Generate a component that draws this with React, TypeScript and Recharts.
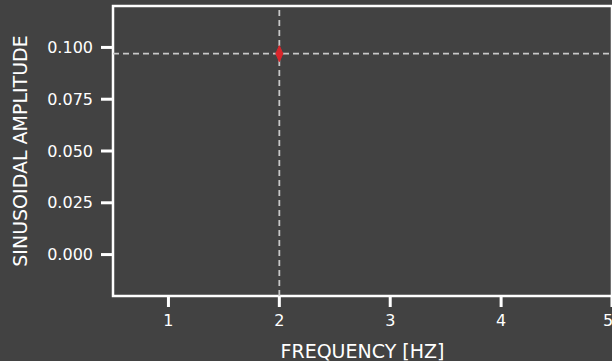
import React from 'react';
import { ComposedChart, Scatter, XAxis, YAxis, ReferenceLine, ReferenceArea } from 'recharts';

const xTicks = [1, 2, 3, 4, 5];
const yTicks = [0, 0.025, 0.05, 0.075, 0.1];
const frequencies = [2];
const amplitudes = [0.097];

const data = frequencies.map((f, i) => ({ freq: f, amp: amplitudes[i] }));

const BG = '#424242';
const FONT = '"DejaVu Sans", sans-serif';

const Diamond = (props: any) => {
  const { cx, cy } = props;
  if (cx == null || cy == null) return null;
  return (
    <path
      d={`M ${cx} ${cy - 8} L ${cx + 3.5} ${cy} L ${cx} ${cy + 8} L ${cx - 3.5} ${cy} Z`}
      fill="#d9262b"
      stroke="#d9262b"
      strokeWidth={1}
    />
  );
};

export default function App() {
  return (
    <div style={{ position: 'absolute', left: 0, top: 0, width: 612, height: 361, background: BG, overflow: 'hidden' }}>
      <ComposedChart width={612} height={361} data={data} margin={{ top: 6, right: 0, bottom: 0, left: 0 }}>
        <XAxis
          dataKey="freq"
          type="number"
          domain={[0.5, 5]}
          ticks={xTicks}
          allowDataOverflow
          height={65}
          axisLine={false}
          tickLine={{ stroke: '#ffffff', strokeWidth: 3 }}
          tickSize={11}
          tickMargin={8}
          tick={{ fill: '#ffffff', fontSize: 16, fontFamily: FONT }}
          label={{ value: 'FREQUENCY [HZ]', position: 'insideBottom', offset: 3, fill: '#ffffff', fontSize: 19, fontFamily: FONT }}
        />
        <YAxis
          dataKey="amp"
          type="number"
          domain={[-0.02, 0.12]}
          ticks={yTicks}
          allowDataOverflow
          width={113}
          axisLine={false}
          tickLine={{ stroke: '#ffffff', strokeWidth: 3 }}
          tickSize={12}
          tickMargin={8}
          tickFormatter={(v: number) => v.toFixed(3)}
          tick={{ fill: '#ffffff', fontSize: 16, fontFamily: FONT }}
          label={{ value: 'SINUSOIDAL AMPLITUDE', angle: -90, position: 'insideLeft', offset: 20, fill: '#ffffff', fontSize: 19, fontFamily: FONT, style: { textAnchor: 'middle' } }}
        />
        <ReferenceArea x1={0.5} x2={5} y1={-0.02} y2={0.12} fill="none" stroke="#ffffff" strokeWidth={2.5} />
        <ReferenceLine x={2} stroke="#c8c8c8" strokeWidth={1.8} strokeDasharray="6 4" />
        <ReferenceLine y={0.097} stroke="#c8c8c8" strokeWidth={1.8} strokeDasharray="6 4" />
        <Scatter dataKey="amp" shape={Diamond} isAnimationActive={false} />
      </ComposedChart>
    </div>
  );
}
